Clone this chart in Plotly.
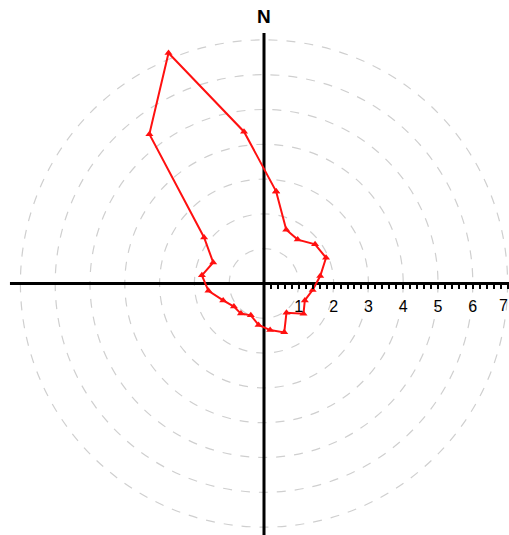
import numpy as np
import plotly.graph_objects as go

# Compass directions (degrees clockwise from north) and radial values
directions = [7.5, 22.5, 37.5, 52.5, 67.5, 82.5, 97.5, 112.5, 127.5, 142.5, 157.5, 172.5,
              187.5, 202.5, 217.5, 232.5, 247.5, 262.5, 277.5, 292.5, 307.5, 322.5, 337.5, 352.5]
radii = [2.67, 1.67, 1.59, 1.85, 1.93, 1.63, 1.41, 1.27, 1.43, 1.06, 1.52, 1.35,
         1.20, 0.99, 1.09, 1.09, 1.27, 1.61, 1.80, 1.58, 2.17, 5.41, 7.17, 4.40]
ring_values = [1, 2, 3, 4, 5, 6, 7]
tick_labels = ["1", "2", "3", "4", "5", "6", "7"]

W, H = 509, 535
cx_px, cy_px = 264.0, 283.5      # centre of the rose in pixels
px_per_unit = 34.8

x_range = [-cx_px / px_per_unit, (W - cx_px) / px_per_unit]
y_range = [-(H - cy_px) / px_per_unit, cy_px / px_per_unit]

# closed outline: polar -> cartesian (north up, clockwise)
theta = np.radians(np.array(directions + directions[:1]))
r = np.array(radii + radii[:1])
xs = r * np.sin(theta)
ys = r * np.cos(theta)

fig = go.Figure()
fig.add_trace(go.Scatter(
    x=xs, y=ys, mode="lines+markers",
    line=dict(color="#ff1010", width=2),
    marker=dict(symbol="triangle-up", size=7, color="#ff1010"),
    hoverinfo="skip", showlegend=False,
))

shapes = []
for k in ring_values:
    shapes.append(dict(type="circle", xref="x", yref="y", x0=-k, y0=-k, x1=k, y1=k,
                       line=dict(color="#cfcfcf", width=1.2, dash="dash"), layer="below"))
# cross axes
shapes.append(dict(type="line", xref="x", yref="y", x0=-7.3, x1=x_range[1] + 0.5, y0=0, y1=0,
                   line=dict(color="black", width=3), layer="below"))
shapes.append(dict(type="line", xref="x", yref="y", x0=0, x1=0, y0=y_range[0] - 0.5,
                   y1=(cy_px - 33) / px_per_unit,
                   line=dict(color="black", width=3), layer="below"))

# ticks every 0.2 along the east axis, labels at whole numbers;
# the outermost label sits at the page edge, so it is placed as an annotation nudged inward
tick_vals = [round(0.2 * i, 1) for i in range(1, 37)]
tick_text = [tick_labels[int(round(v)) - 1] if abs(v - round(v)) < 1e-9 and 1 <= round(v) <= 6 else ""
             for v in tick_vals]

label_font = dict(family="Liberation Sans, Arial", size=16, color="black")

fig.update_layout(
    width=W, height=H,
    margin=dict(l=0, r=0, t=0, b=0, autoexpand=False),
    paper_bgcolor="white", plot_bgcolor="white",
    shapes=shapes,
    xaxis=dict(range=x_range, showgrid=False, zeroline=False, showline=False,
               anchor="free", position=(H - cy_px) / H, automargin=False,
               tickmode="array", tickvals=tick_vals, ticktext=tick_text,
               ticks="outside", ticklen=4, tickwidth=1.5, tickcolor="black",
               ticklabelstandoff=4,
               tickfont=label_font,
               fixedrange=True),
    yaxis=dict(range=y_range, showgrid=False, zeroline=False, showline=False,
               automargin=False, showticklabels=False, ticks="", fixedrange=True),
    annotations=[
        dict(x=0, y=(cy_px - 16) / px_per_unit, xref="x", yref="y",
             text="<b>N</b>", showarrow=False,
             font=dict(family="Liberation Sans, Arial", size=19, color="black")),
        dict(x=ring_values[-1], y=0, xref="x", yref="y", text=tick_labels[-1],
             showarrow=False, xanchor="center", yanchor="middle",
             xshift=-4, yshift=-22, font=label_font),
    ],
    showlegend=False,
)

fig.write_html("out.html")
